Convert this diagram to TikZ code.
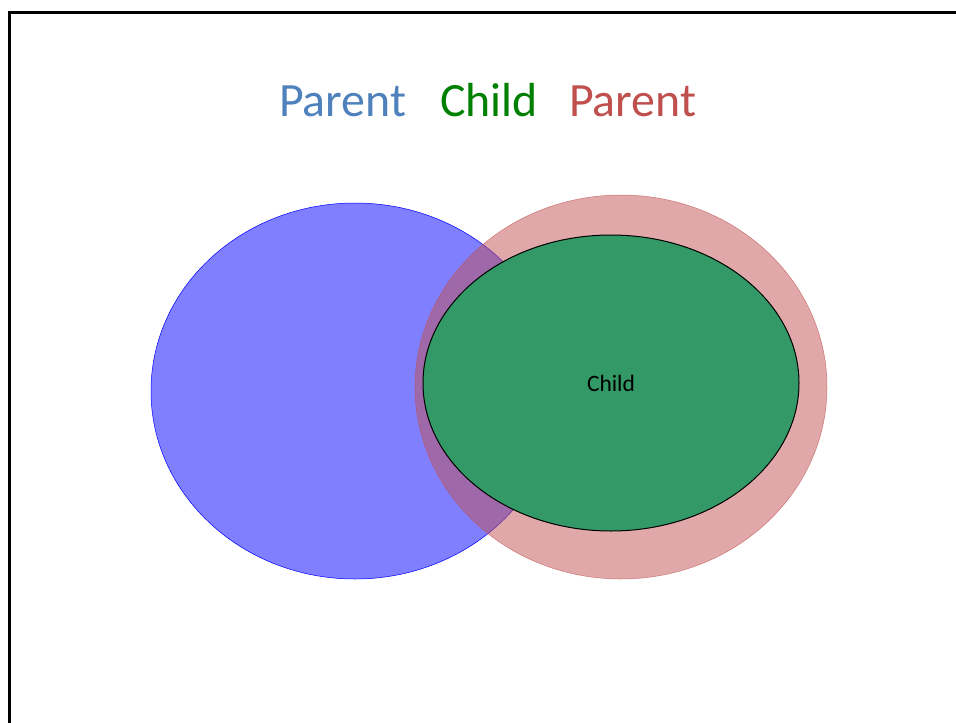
\documentclass[tikz,border=0pt]{standalone}
\usepackage{fontspec}
\setmainfont{Carlito}
\usetikzlibrary{shapes.geometric}
\definecolor{tblue}{HTML}{4F81BD}
\definecolor{tgreen}{HTML}{008000}
\definecolor{tred}{HTML}{C0504D}
\definecolor{pblue}{HTML}{0000FF}
\definecolor{pred}{HTML}{C15151}
\definecolor{cgreen}{HTML}{339966}
\tikzset{
  title/.style={anchor=base west, font=\fontsize{47.8}{52}\selectfont, inner sep=0},
  blob/.style={ellipse, inner sep=0},
}
\begin{document}
\begin{tikzpicture}[x=1pt,y=-1pt]
\useasboundingbox (0,0) rectangle (956,723);
\clip (0,0) rectangle (956,723);
\draw[line width=3pt] (9,740) -- (9,12) -- (970,12);
\node[title, text=tblue] (t1) at (279,116) {Parent};
\node[title, text=tgreen] (t2) at (440,116) {Child};
\node[title, text=tred] (t3) at (569,116) {Parent};
\node[blob, minimum width=408pt, minimum height=376pt, fill=pblue, fill opacity=0.5, draw=pblue, line width=0.5pt] (pa) at (355,391) {};
\node[blob, minimum width=412pt, minimum height=384pt, fill=pred, fill opacity=0.5, draw=pred, draw opacity=0.7, line width=0.5pt] (pb) at (621,387) {};
\node[blob, minimum width=376pt, minimum height=296pt, fill=cgreen, draw=black, line width=1pt, font=\fontsize{23.5}{26}\selectfont] (ch) at (611,383) {Child};
\end{tikzpicture}
\end{document}
